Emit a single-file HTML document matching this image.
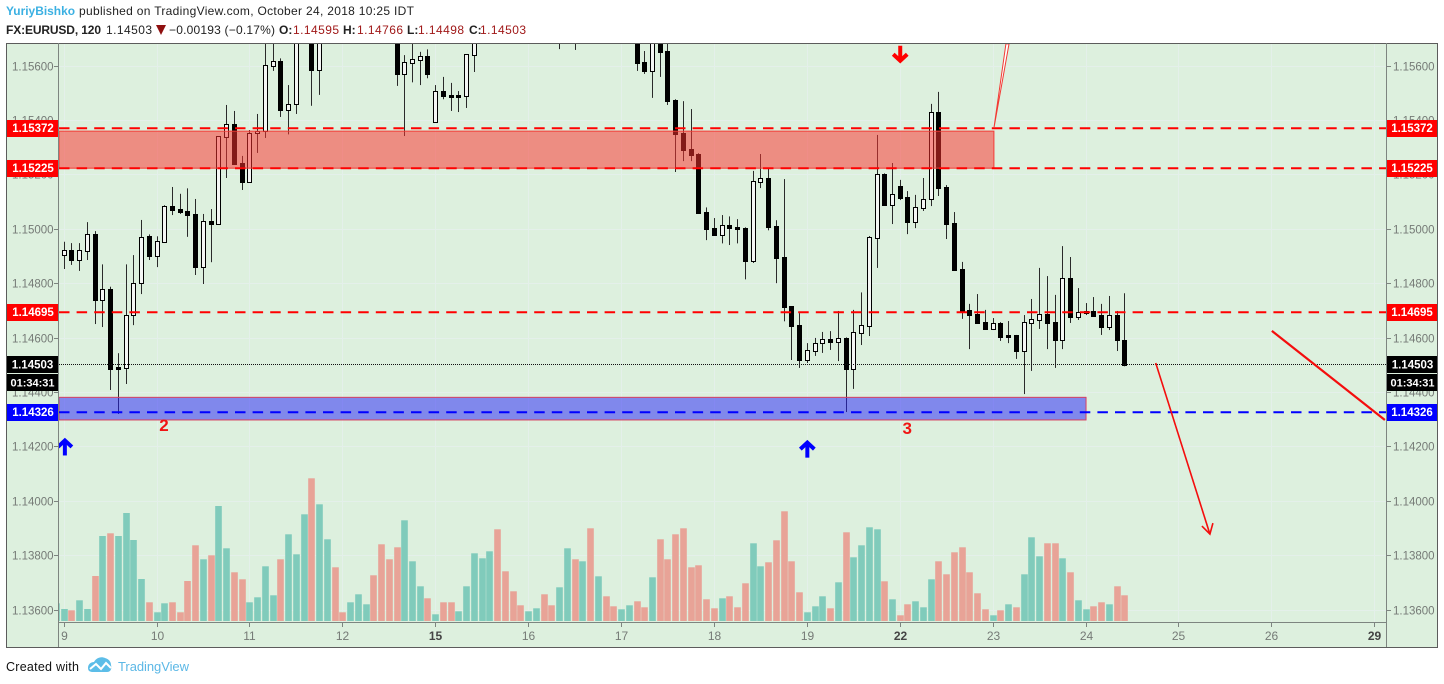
<!DOCTYPE html>
<html lang="en">
<head>
<meta charset="utf-8">
<title>EURUSD 120 chart</title>
<style>
html,body{margin:0;padding:0;background:#fff;width:1444px;height:684px;overflow:hidden}
svg{display:block;font-family:"Liberation Sans",Arial,sans-serif}
</style>
</head>
<body>
<svg id="chart" xmlns="http://www.w3.org/2000/svg" width="1444" height="684" viewBox="0 0 1444 684">
  <defs>
    <clipPath id="plot-clip"><rect x="59" y="44" width="1327" height="578"/></clipPath>
  </defs>
  <rect x="0" y="0" width="1444" height="684" fill="#ffffff"/>
  <g font-size="12">
    <text x="6" y="15" fill="#3bb0e2" font-weight="bold" textLength="69" lengthAdjust="spacingAndGlyphs">YuriyBishko</text>
    <text x="79" y="15" fill="#222" textLength="335" lengthAdjust="spacing">published on TradingView.com, October 24, 2018 10:25 IDT</text>
  </g>
  <g font-size="12" fill="#222">
    <text x="6" y="34" font-weight="bold" textLength="95" lengthAdjust="spacing">FX:EURUSD, 120</text>
    <text x="106" y="34" textLength="46" lengthAdjust="spacing">1.14503</text>
    <polygon points="156,25 166,25 161,35" fill="#8f1010"/>
    <text x="169" y="34" textLength="106" lengthAdjust="spacing">−0.00193 (−0.17%)</text>
    <text x="279" y="34" font-weight="bold">O:</text>
    <text x="293" y="34" fill="#a01818" textLength="46" lengthAdjust="spacing">1.14595</text>
    <text x="343" y="34" font-weight="bold">H:</text>
    <text x="357" y="34" fill="#a01818" textLength="46" lengthAdjust="spacing">1.14766</text>
    <text x="407" y="34" font-weight="bold">L:</text>
    <text x="418" y="34" fill="#a01818" textLength="46" lengthAdjust="spacing">1.14498</text>
    <text x="469" y="34" font-weight="bold">C:</text>
    <text x="480" y="34" fill="#a01818" textLength="46" lengthAdjust="spacing">1.14503</text>
  </g>
  <rect x="6.5" y="43.5" width="1431" height="604" fill="#ddf0de" stroke="#5c5c5c" stroke-width="1"/>
  <g id="grid"></g>
  <g clip-path="url(#plot-clip)">
    <g id="volume"></g>
    <g id="candles"></g>
    <g id="drawings"></g>
  </g>
  <g id="axes"></g>
  <g id="labels"></g>
  <g>
    <text x="6" y="671" font-size="12.5" fill="#111" textLength="73" lengthAdjust="spacing">Created with</text>
    <g>
      <path d="M88 668 C88 664 91 662 94 662 C96 658 101 656 105 658 C109 659 111 662 111 665 C112 668 111 672 107 672 L93 672 C90 672 88 671 88 668 Z" fill="#5cbde8"/>
      <polyline points="90,669 96,664 101,669 106,663 111,668" fill="none" stroke="#ffffff" stroke-width="2"/>
    </g>
    <text x="118" y="671" font-size="13" fill="#5cb8e6" textLength="71" lengthAdjust="spacing">TradingView</text>
  </g>
</svg>
<script>
// Prices are in 1e-5 units (114503 = 1.14503). Bars hidden above the frame are estimates.
const opens = [
114906,114923,114889,114922,114982,114742,114780,114494,114493,114687,
114802,114975,114904,114955,115085,115075,115067,115056,114862,115030,
115021,115341,115386,115243,115174,115353,115363,115601,115617,115440,
115459,115850,115880,115585,115800,115760,115790,115850,115820,115870,
115840,115800,115830,115780,115572,115612,115623,115637,115396,115508,
115492,115492,115490,115641,115700,115760,115820,115790,115840,115880,
115850,115830,115800,115820,115780,115730,115760,115720,115770,115800,
115830,115860,115840,115810,115780,115614,115583,115760,115655,115475,
115354,115295,115277,115063,115005,114980,115016,115009,115005,114884,
115174,115189,115013,114899,114719,114650,114521,114554,114582,114598,
114587,114602,114489,114620,114646,114970,115204,115091,115159,115118,
115027,115079,115111,115431,115156,115024,114855,114705,114690,114661,
114636,114657,114613,114613,114554,114657,114668,114690,114661,114594,
114822,114679,114700,114701,114686,114642,114686,114595];
const highs = [
114955,114950,114950,115027,114994,114872,114790,114546,114872,114906,
115035,114982,114975,115089,115156,115131,115151,115112,115057,115075,
115343,115457,115435,115270,115365,115424,115720,115700,115628,115530,
115900,115960,115950,115860,115900,115830,115880,115930,115890,115950,
115900,115860,115900,115830,115640,115720,115652,115661,115530,115560,
115538,115508,115644,115780,115800,115850,115900,115860,115920,115950,
115910,115890,115860,115870,115840,115800,115820,115800,115840,115870,
115900,115920,115890,115860,115810,115655,115780,115800,115700,115478,
115471,115442,115280,115081,115042,115053,115048,115038,115008,115215,
115277,115225,115034,115185,114719,114693,114583,114602,114624,114627,
114701,114604,114705,114769,114976,115347,115206,115244,115182,115141,
115127,115189,115461,115505,115163,115064,114881,114727,114763,114705,
114675,114660,114664,114613,114686,114745,114859,114829,114760,114939,
114899,114785,114730,114752,114727,114756,114701,114766];
const lows = [
114855,114870,114848,114888,114653,114642,114411,114323,114433,114649,
114763,114888,114862,114953,115053,115057,114973,114833,114800,114880,
115018,115189,115240,115145,115174,115281,115336,115582,115413,115349,
115424,115740,115454,115494,115720,115700,115730,115780,115760,115810,
115770,115730,115750,115527,115343,115540,115530,115555,115396,115478,
115435,115431,115446,115578,115690,115710,115770,115740,115790,115820,
115800,115770,115730,115750,115662,115690,115659,115690,115720,115750,
115780,115800,115770,115720,115582,115571,115483,115560,115457,115211,
115251,115251,115059,114961,114980,114949,114943,114949,114817,114877,
115152,114997,114803,114663,114521,114492,114510,114536,114547,114558,
114517,114330,114415,114576,114609,114859,115090,115020,115108,114983,
115005,115068,115086,115123,114965,114851,114672,114561,114657,114635,
114631,114591,114583,114525,114396,114481,114635,114561,114492,114561,
114657,114668,114686,114679,114613,114631,114554,114498];
const closes = [
114923,114889,114923,114982,114742,114780,114489,114489,114687,114802,
114973,114904,114957,115085,115071,115064,115053,114862,115030,115021,
115342,115386,115240,115174,115353,115363,115603,115617,115440,115459,
115850,115900,115585,115800,115760,115790,115850,115820,115870,115840,
115800,115830,115780,115572,115614,115625,115637,115572,115507,115490,
115487,115487,115644,115700,115760,115820,115790,115840,115880,115850,
115830,115800,115820,115780,115730,115760,115720,115770,115800,115830,
115860,115840,115810,115780,115612,115582,115720,115651,115471,115350,
115292,115273,115060,115002,114980,115015,115005,115002,114884,115177,
115189,115009,114895,114716,114646,114521,114557,114582,114597,114587,
114601,114489,114623,114648,114971,115203,115090,115129,115116,115027,
115081,115111,115430,115152,115020,114851,114701,114686,114657,114635,
114656,114605,114605,114554,114659,114671,114689,114657,114594,114822,
114679,114696,114695,114683,114642,114685,114594,114503];

// Volume series starts one bar before the first candle (partly cut off by the axis).
const volumes = [177,
120,107,207,120,450,850,877,850,1080,810,
420,187,87,177,187,87,400,757,617,657,
1150,727,487,417,187,237,547,257,617,867,
667,1067,1427,1167,817,537,87,187,267,167,
457,767,617,737,1007,597,347,227,67,187,
187,97,347,677,627,697,917,497,297,157,
97,127,267,157,337,727,617,597,927,447,
247,147,117,157,197,137,437,817,617,867,
927,537,557,217,127,227,247,137,377,777,
547,587,807,1097,597,287,87,147,247,127,
387,887,637,757,937,917,397,217,57,167,
197,137,417,597,467,687,737,487,277,117,
57,107,167,137,467,837,647,777,777,627,
487,207,117,147,187,167,347,257];
const volumeUp = [1,
1,0,1,1,0,1,0,1,1,1,
1,0,1,1,0,0,0,0,1,0,
1,1,0,0,1,1,1,1,0,1,
1,1,0,1,1,0,0,1,1,1,
0,0,0,0,1,1,1,0,1,0,
0,1,1,1,1,1,0,0,0,0,
1,1,0,0,1,1,0,1,0,1,
0,0,1,1,0,0,1,0,0,0,
0,0,0,0,0,1,0,0,0,1,
1,0,0,0,0,0,1,1,1,0,
1,0,1,1,1,1,0,1,0,0,
1,1,1,0,0,0,0,0,0,0,
1,0,1,0,1,1,1,0,0,1,
0,1,1,0,0,1,0,0];

const priceTicks = ["1.15600","1.15400","1.15200","1.15000","1.14800","1.14600","1.14400","1.14200","1.14000","1.13800","1.13600"];
const dayLabels = ["9","10","11","12","15","16","17","18","19","22","23","24","25","26","29"];
const dayBars = [0,12,24,36,48,60,72,84,96,108,120,132,144,156,169.2];
const dayBold = [0,0,0,0,1,0,0,0,0,1,0,0,0,0,1];
const redLevels = [115372,115225,114695];
const blueLevel = 114326;
const lastPrice = 114503;
const countdown = "01:34:31";

const NS = "http://www.w3.org/2000/svg";
const PLOT_L = 59, PLOT_R = 1386, PLOT_T = 44, PLOT_B = 622;
function barX(i){ return 64.1 + 7.742 * i; }
function priceY(p){ return 66 + (115600 - p) / 3.67; }
function lineY(p){ return Math.floor(65.9 + (115600 - p) / 3.675 + 0.1); }
function volumeH(v){ return v / 10; }
function fmt(p){ return (p / 100000).toFixed(5); }
function mk(parent, tag, attrs, text){
  const el = document.createElementNS(NS, tag);
  for (const k in attrs) el.setAttribute(k, attrs[k]);
  if (text !== undefined) el.textContent = text;
  parent.appendChild(el);
  return el;
}
const grid = document.getElementById("grid");
const volG = document.getElementById("volume");
const canG = document.getElementById("candles");
const drw = document.getElementById("drawings");
const axes = document.getElementById("axes");
const lab = document.getElementById("labels");
const GRID = "#e4f0ea", AXIS = "#7d8580", TICKTXT = "#757a76";

// grid, ticks and tick labels: price
priceTicks.forEach(function(t){
  const p = Math.round(parseFloat(t) * 100000);
  const y = lineY(p) + 0.5;
  const g1 = mk(grid, "line", {x1:PLOT_L, x2:PLOT_R, y1:y, y2:y, stroke:GRID, "stroke-width":1});
  
  
  const tl = mk(axes, "line", {x1:54, x2:58, y1:y, y2:y, stroke:AXIS, "stroke-width":1});
  
  
  const tr = mk(axes, "line", {x1:1387, x2:1391, y1:y, y2:y, stroke:AXIS, "stroke-width":1});
  
  
  const a = mk(axes, "text", {x:12, y:y + 4, "font-size":11.5, fill:TICKTXT}, t);
  
  
  const b = mk(axes, "text", {x:1393, y:y + 4, "font-size":11.5, fill:TICKTXT}, t);
  
  
});
// grid, ticks and labels: time
dayLabels.forEach(function(t, k){
  const x = Math.floor(barX(dayBars[k])) + 0.5;
  const g2 = mk(grid, "line", {x1:x, x2:x, y1:PLOT_T, y2:PLOT_B, stroke:GRID, "stroke-width":1});
  
  
  const tk = mk(axes, "line", {x1:x, x2:x, y1:623, y2:627, stroke:AXIS, "stroke-width":1});
  
  
  const tx = mk(axes, "text", {x:x, y:640, "font-size":12, "text-anchor":"middle", fill:dayBold[k] ? "#444" : TICKTXT, "font-weight":dayBold[k] ? "bold" : "normal"}, t);
  
  
});

// volume
volumes.forEach(function(v, k){
  const px = Math.floor(barX(k - 1));
  const h = volumeH(v);
  const r = mk(volG, "rect", {x:px - 2.8, y:PLOT_B - 1 - h, width:6.6, height:h, fill:volumeUp[k] ? "#80cbbb" : "#e8a397"});
  
  
});

// candles
opens.forEach(function(o, i){
  const c = closes[i];
  const px = Math.floor(barX(i));
  const w = mk(canG, "rect", {x:px, y:priceY(highs[i]), width:1, height:priceY(lows[i]) - priceY(highs[i]), fill:"#2a2a2a"});
  
  
  const top = Math.round(priceY(Math.max(o, c)));
  const bot = Math.max(top + 1, Math.round(priceY(Math.min(o, c))));
  const b = mk(canG, "rect", {x:px - 1.5, y:top + 0.5, width:4, height:bot - top, fill:c >= o ? "#f4f6f4" : "#000000", stroke:"#000000", "stroke-width":1});
  
  
});

// last price dotted line
const lpY = lineY(lastPrice) + 0.5;
const dot = mk(drw, "line", {x1:PLOT_L, x2:PLOT_R, y1:lpY, y2:lpY, stroke:"#111", "stroke-width":1, "stroke-dasharray":"1 1"});



// supply and demand zones
const zoneTop = 115361, zoneBottom = 115225, zoneEndBar = 120.1;
const redZone = mk(drw, "rect", {x:PLOT_L, y:priceY(zoneTop), width:barX(zoneEndBar) - PLOT_L, height:priceY(zoneBottom) - priceY(zoneTop), fill:"rgba(252,50,46,0.52)", stroke:"#f23a34", "stroke-width":1});


const blueTop = 114384, blueBottom = 114301, blueEndBar = 132;
const blueZone = mk(drw, "rect", {x:PLOT_L, y:priceY(blueTop), width:barX(blueEndBar) - PLOT_L, height:priceY(blueBottom) - priceY(blueTop), fill:"rgba(35,32,250,0.5)", stroke:"#d8405e", "stroke-width":1});



// horizontal levels with price labels
function level(p, col, name){
  const y = lineY(p) + 0.3;
  const l = mk(drw, "line", {x1:PLOT_L, x2:PLOT_R, y1:y, y2:y, stroke:col, "stroke-width":2, "stroke-dasharray":"10.5 7.1"});
  
  
  [7, 1387].forEach(function(x){
    const r = mk(lab, "rect", {x:x, y:lineY(p) - 8, width:x === 7 ? 51 : 50, height:17, fill:col});
    
    
    const t = mk(lab, "text", {x:x + (x === 7 ? 26 : 25), y:lineY(p) + 4, "font-size":11.5, "font-weight":"bold", fill:"#fff", "text-anchor":"middle"}, fmt(p));
    
    
  });
}
redLevels.forEach(function(p){ level(p, "#ff0000", "red-level"); });
level(blueLevel, "#0000ff", "blue-level");

// last price and countdown labels
[7, 1387].forEach(function(x){
  const y = lineY(lastPrice);
  const r = mk(lab, "rect", {x:x, y:y - 8, width:x === 7 ? 51 : 50, height:17, fill:"#000"});
  
  
  const t = mk(lab, "text", {x:x + 25.5, y:y + 4.5, "font-size":11.5, "font-weight":"bold", fill:"#fff", "text-anchor":"middle"}, fmt(lastPrice));
  
  
  const r2 = mk(lab, "rect", {x:x, y:y + 10, width:x === 7 ? 51 : 50, height:17, fill:"#000"});
  
  
  const t2 = mk(lab, "text", {x:x + 25.5, y:y + 22.5, "font-size":11, "font-weight":"bold", fill:"#fff", "text-anchor":"middle"}, countdown);
  
  
});

// hand drawn annotations, anchored in bar / price space
const wedgePoints = [[120.1,115372],[121.65,115681],[122.05,115681]];
const wedge = mk(drw, "polygon", {points:wedgePoints.map(function(a){ return barX(a[0]) + "," + priceY(a[1]); }).join(" "), fill:"#ffffff", stroke:"#f23a34", "stroke-width":1});


const longLine = [[156,114628],[170.6,114301]];
const ll = mk(drw, "line", {x1:barX(longLine[0][0]), y1:priceY(longLine[0][1]), x2:barX(longLine[1][0]), y2:priceY(longLine[1][1]), stroke:"#f40d0d", "stroke-width":2.2});


const arrowLine = [[141.0,114510],[148.0,113882]];
const ax1 = barX(arrowLine[0][0]), ay1 = priceY(arrowLine[0][1]), ax2 = barX(arrowLine[1][0]), ay2 = priceY(arrowLine[1][1]);
const al = mk(drw, "line", {x1:ax1, y1:ay1, x2:ax2, y2:ay2, stroke:"#f40d0d", "stroke-width":1.6});


const ah = mk(drw, "polyline", {points:(ax2 - 8) + "," + (ay2 - 8) + " " + ax2 + "," + ay2 + " " + (ax2 + 3) + "," + (ay2 - 11), fill:"none", stroke:"#f40d0d", "stroke-width":1.6});



function signalArrow(bar, p, col, up, name){
  const cx = barX(bar), cy = priceY(p), d = up ? -1 : 1;
  const pts = (cx - 7) + "," + (cy + d * 0.5) + " " + cx + "," + (cy + d * 7) + " " + (cx + 7) + "," + (cy + d * 0.5);
  const g = mk(drw, "g", {});
  
  
  mk(g, "line", {x1:cx, x2:cx, y1:cy - d * 8, y2:cy + d * 6, stroke:col, "stroke-width":4});
  mk(g, "polyline", {points:pts, fill:"none", stroke:col, "stroke-width":4});
}
signalArrow(108, 115645, "#ff0000", false, "sell-arrow");
signalArrow(0.1, 114200, "#0000ff", true, "buy-arrow-left");
signalArrow(96, 114192, "#0000ff", true, "buy-arrow-middle");

const n2 = mk(drw, "text", {x:barX(12.9), y:431, "font-size":17, "font-weight":"bold", fill:"#f01414", "text-anchor":"middle"}, "2");


const n3 = mk(drw, "text", {x:barX(108.9), y:434, "font-size":17, "font-weight":"bold", fill:"#f01414", "text-anchor":"middle"}, "3");



// axis lines
[[58.5,43,58.5,647,'left-axis-line'],[1386.5,43,1386.5,647,'right-axis-line'],[58,622.5,1387,622.5,'time-axis-line']].forEach(function(a){
  const l = mk(axes, "line", {x1:a[0], y1:a[1], x2:a[2], y2:a[3], stroke:AXIS, "stroke-width":1});
  
  
});
</script>
</body>
</html>
